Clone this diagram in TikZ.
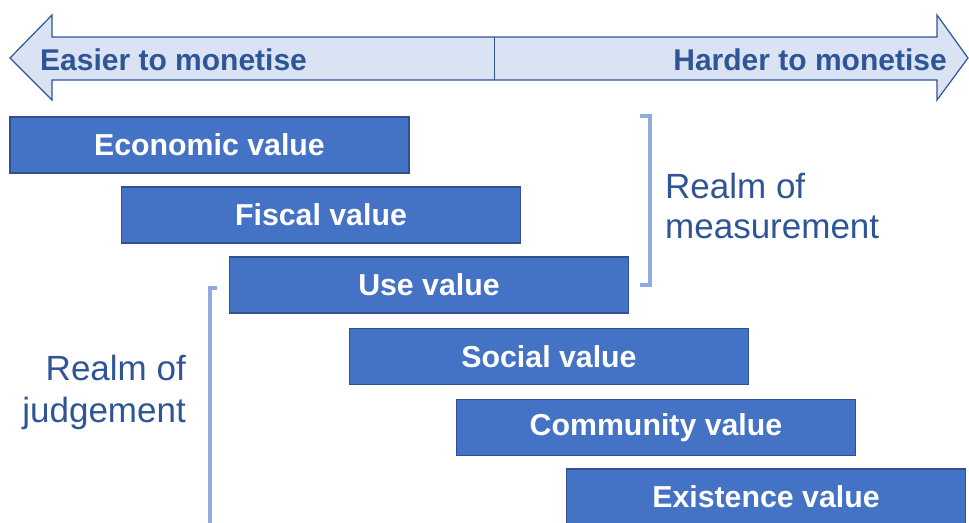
\documentclass[tikz,border=0pt]{standalone}
\usepackage{fontspec}
\setmainfont{Liberation Sans}
\definecolor{boxfill}{HTML}{4472C4}
\definecolor{boxline}{HTML}{2F528F}
\definecolor{arrfill}{HTML}{DAE3F3}
\definecolor{arrline}{HTML}{2F5597}
\definecolor{txtblue}{HTML}{2F5597}
\definecolor{brk}{HTML}{8FAADC}
\begin{document}
\begin{tikzpicture}[x=1pt,y=-1pt,
  valbox/.style={draw=boxline,line width=1.2pt,fill=boxfill,minimum width=399pt,minimum height=56pt,inner sep=0pt,
    text=white,font=\fontsize{30.3}{31}\selectfont\bfseries},
  arrtxt/.style={text=txtblue,font=\fontsize{30}{31}\selectfont\bfseries,inner sep=0pt},
  realm/.style={text=txtblue,font=\fontsize{35}{40}\selectfont,inner sep=0pt,align=left},
  bracket/.style={draw=brk,line width=3.5pt}]
\useasboundingbox (0,0) rectangle (969,522);
% double arrow
\draw[draw=arrline,fill=arrfill,line width=1.2pt,line join=miter]
  (10,58) -- (52,15) -- (52,37) -- (937,37) -- (937,15) -- (968,58) -- (937,100) -- (937,80) -- (52,80) -- (52,100) -- cycle;
\coordinate (divtop) at (494,37);
\coordinate (divbot) at (494,80);
\draw[draw=arrline,line width=1pt] (divtop) -- (divbot);
\node[arrtxt,anchor=base west] (easier) at (40,70) {Easier to monetise};
\node[arrtxt,anchor=base east] (harder) at (947,70) {Harder to monetise};
% value boxes
\node[valbox] (econ) at (209.5,145) {Economic value};
\node[valbox] (fiscal) at (321,215) {Fiscal value};
\node[valbox] (use) at (429,285) {Use value};
\node[valbox] (social) at (549,356.5) {Social value};
\node[valbox] (comm) at (656,427.5) {Community value};
\node[valbox] (exist) at (766,497) {Existence value};
% brackets
\coordinate (m1) at (640,116);
\coordinate (m2) at (650,116);
\coordinate (m3) at (650,285);
\coordinate (m4) at (640,285);
\draw[bracket,line join=miter] (m1) -- (m2) -- (m3) -- (m4);
\coordinate (j1) at (217,288);
\coordinate (j2) at (210,288);
\coordinate (j3) at (210,525);
\draw[bracket,line join=miter] (j1) -- (j2) -- (j3);
\node[realm,anchor=base west] (meas1) at (665,198) {Realm of};
\node[realm,anchor=base west] (meas2) at (665,238) {measurement};
\node[realm,anchor=base east] (judg1) at (186,380) {Realm of};
\node[realm,anchor=base east] (judg2) at (186,422) {judgement};
\end{tikzpicture}
\end{document}
